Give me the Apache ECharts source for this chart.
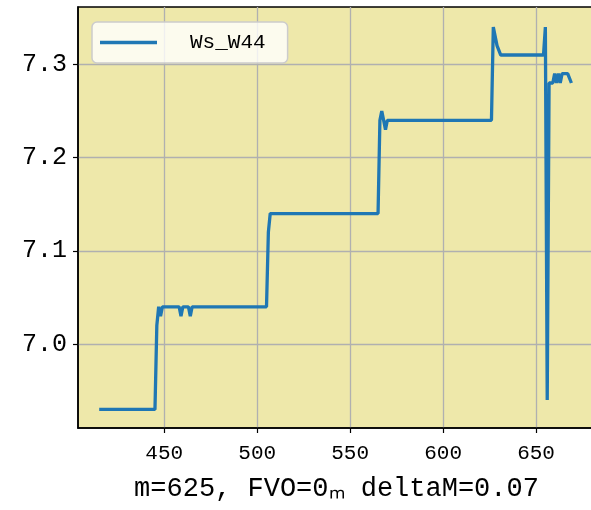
<!DOCTYPE html>
<html>
<head>
<meta charset="utf-8">
<script src="https://cdn.jsdelivr.net/npm/echarts@6/dist/echarts.min.js"></script>
<style>
  html, body { margin: 0; padding: 0; background: #fff; }
  #main { width: 591px; height: 510px; }
</style>
</head>
<body>
<div id="main"></div>
<script>
// sample positions and Ws_W44 values
var xs = [415, 445, 446, 447, 448, 449, 458, 459, 460, 463, 464, 465,
          505, 506, 507, 565, 566, 567, 568, 569, 570,
          626, 627, 628, 629, 630, 631, 654, 655, 656, 657, 658, 659,
          660, 661, 662, 663, 664, 667, 669];
var ys = [6.93, 6.93, 7.02, 7.04, 7.03, 7.04, 7.04, 7.03, 7.04, 7.04, 7.03, 7.04,
          7.04, 7.12, 7.14, 7.14, 7.24, 7.25, 7.24, 7.23, 7.24,
          7.24, 7.34, 7.33, 7.32, 7.32, 7.31, 7.31, 7.34, 6.94, 7.28, 7.28, 7.28,
          7.29, 7.28, 7.29, 7.28, 7.29, 7.29, 7.28];
var xTicks = [450, 500, 550, 600, 650];
var yTicks = [7.0, 7.1, 7.2, 7.3];
var seriesName = 'Ws_W44';
var xTitle = 'm=625, FVO=0ₘ deltaM=0.07';

var mono = 'Liberation Mono';
var chart = echarts.init(document.getElementById('main'), null, {renderer: 'canvas'});

var option = {
    animation: false,
    backgroundColor: '#ffffff',
    grid: {
        left: 78, top: 7, right: -4, bottom: 82,
        show: true,
        backgroundColor: '#eee8aa',
        borderColor: '#000000',
        borderWidth: 1.5,
        outerBoundsMode: 'none'
    },
    legend: {
        show: true,
        left: 92, top: 22,
        orient: 'horizontal',
        padding: [10, 22, 10, 8],
        backgroundColor: 'rgba(255,255,255,0.8)',
        borderColor: '#cccccc',
        borderWidth: 1.5,
        borderRadius: 5,
        icon: 'rect',
        itemWidth: 57,
        itemHeight: 3.5,
        textStyle: {
            fontFamily: mono,
            fontSize: 21,
            color: '#000',
            padding: [0, 0, 0, 28]
        },
        data: [seriesName]
    },
    xAxis: {
        type: 'value',
        min: 403.6,
        max: 681.7,
        name: xTitle,
        nameLocation: 'middle',
        nameGap: 47,
        nameTextStyle: {fontFamily: mono, fontSize: 27, color: '#000'},
        axisLine: {show: true, lineStyle: {color: '#000', width: 1.5}},
        axisTick: {show: true, length: 5, lineStyle: {color: '#000', width: 1.2}, customValues: xTicks},
        axisLabel: {
            customValues: xTicks,
            fontFamily: mono, fontSize: 21, color: '#000', margin: 15
        },
        splitLine: {show: true, lineStyle: {color: '#b0b0b0', width: 1.3}}
    },
    yAxis: {
        type: 'value',
        min: 6.91,
        max: 7.3615,
        axisLine: {show: true, lineStyle: {color: '#000', width: 1.5}},
        axisTick: {show: true, length: 5, lineStyle: {color: '#000', width: 1.2}, customValues: yTicks},
        axisLabel: {
            customValues: yTicks,
            fontFamily: mono, fontSize: 25, color: '#000', margin: 11,
            formatter: function (v) { return v.toFixed(1); }
        },
        splitLine: {show: true, lineStyle: {color: '#b0b0b0', width: 1.3}}
    },
    series: [{
        name: seriesName,
        type: 'line',
        symbol: 'none',
        showSymbol: false,
        color: '#1f77b4',
        lineStyle: {color: '#1f77b4', width: 3.3},
        data: xs.map(function (x, i) { return [x, ys[i]]; })
    }]
};
chart.setOption(option);
</script>
</body>
</html>
